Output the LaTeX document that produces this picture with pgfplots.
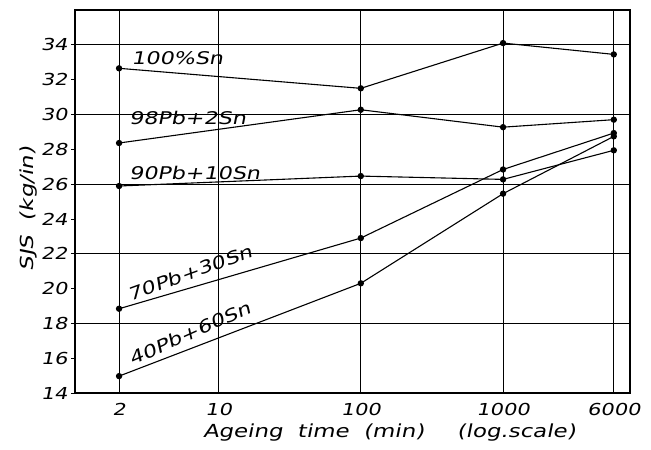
\documentclass[border=0pt]{standalone}
\usepackage{fontspec}
\setmainfont{DejaVu Sans}
\newfontfamily\lf{DejaVu Sans}[FakeStretch=1.27,FakeSlant=0.2]
\usepackage{pgfplots}
\pgfplotsset{compat=1.18}
\tikzset{
  ser/.style={black, line width=1.1pt, mark=*, mark size=2.6pt},
  lbl/.style={font=\lf\fontsize{17.5}{19}\selectfont, inner sep=1pt}}

\begin{document}
\begin{tikzpicture}
\begin{axis}[
  scale only axis, width=555pt, height=383pt,
  xmode=log, xmin=0.98, xmax=7800, ymin=14, ymax=36,
  xtick={2,10,100,1000,6000}, xticklabels={2,10,100,1000,6000},
  ytick={14,16,...,34}, ytick pos=left, xtick pos=bottom,
  extra y ticks={18,22,26,30,34}, extra y tick labels={},
  extra y tick style={grid=major, major tick length=0pt},
  xmajorgrids, grid style={black, line width=0.7pt},
  axis line style={line width=1.3pt},
  tick style={black, line width=0.8pt}, tick align=outside, major tick length=4pt,
  minor tick num=0,
  xtick style={draw=none},
  ticklabel style={font=\lf\fontsize{16.5}{18}\selectfont},
  x tick label style={yshift=-3pt},
  /pgf/number format/assume math mode=true,
  clip=false,
]
% 100% Sn
\addplot[ser] coordinates {(2,32.65) (100,31.5) (1000,34.1) (6000,33.45)};
% 98Pb+2Sn
\addplot[ser] coordinates {(2,28.36) (100,30.27) (1000,29.27) (6000,29.7)};
% 90Pb+10Sn
\addplot[ser] coordinates {(2,25.89) (100,26.46) (1000,26.27) (6000,27.94)};
% 70Pb+30Sn
\addplot[ser] coordinates {(2,18.84) (100,22.9) (1000,26.84) (6000,28.93)};
% 40Pb+60Sn
\addplot[ser] coordinates {(2,14.97) (100,20.3) (1000,25.45) (6000,28.74)};

\node[lbl, anchor=west] at (axis cs:2.39,33.25) {100\%Sn};
\node[lbl, anchor=west] at (axis cs:2.31,29.8) {98Pb+2Sn};
\node[lbl, anchor=west] at (axis cs:2.31,26.65) {90Pb+10Sn};
\node[lbl, rotate=20] at (axis cs:6.3,20.9) {70Pb+30Sn};
\node[lbl, rotate=24] at (axis cs:6.3,17.43) {40Pb+60Sn};

\node[font=\lf\fontsize{18}{20}\selectfont, rotate=90] at (axis description cs:-0.084,0.48) {SJS\ \ (kg/in)};
\node[font=\lf\fontsize{18}{20}\selectfont] at (axis description cs:0.43,-0.104) {Ageing\ \ time\ \ (min)};
\node[font=\lf\fontsize{18}{20}\selectfont] at (axis description cs:0.795,-0.104) {(log.scale)};
\end{axis}
\pgfresetboundingbox
\path[use as bounding box] (-75pt,-57pt) rectangle (576pt,393pt);
\end{tikzpicture}
\end{document}
